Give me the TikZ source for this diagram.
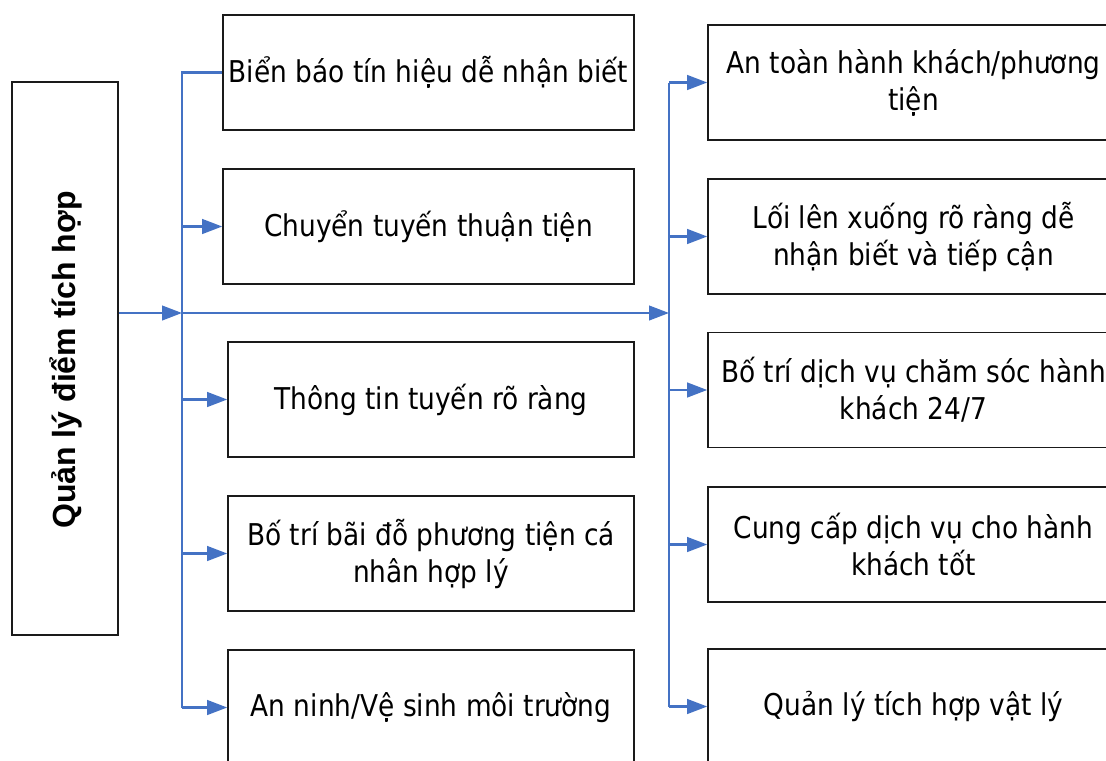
\documentclass[tikz,border=0pt]{standalone}
\usepackage{fontspec}
\setmainfont{DejaVu Sans}[FakeStretch=0.88]
\newfontfamily\titlefont{Liberation Sans}[BoldFont={Liberation Sans Bold}]
\usetikzlibrary{arrows.meta}
\definecolor{linkblue}{HTML}{4472C4}
\definecolor{boxline}{HTML}{1A1A1A}
\tikzset{
  box/.style={draw=boxline, line width=1.2pt, inner sep=0pt, align=center,
    minimum height=86.25pt, font=\fontsize{22.5}{27.75}\selectfont},
  leftbox/.style={box, minimum width=304.5pt},
  widebox/.style={box, minimum width=308.25pt},
  conn/.style={draw=linkblue, line width=1.6pt},
  arr/.style={conn, -{Triangle[length=15pt,width=11pt]}},
}
\begin{document}
\begin{tikzpicture}[x=0.75pt,y=-0.75pt]
\useasboundingbox (0,0) rectangle (1106,760);
\clip (0,0) rectangle (1106,760);

% title column
\node[draw=boxline, line width=1.2pt, minimum width=79.5pt, minimum height=414.75pt,
  inner sep=0pt] (title) at (65,358.5) {};
\node[rotate=90, font=\titlefont\bfseries\fontsize{24}{28}\selectfont]
  (titletext) at (66,360) {Quản lý điểm tích hợp};

% left column
\node[widebox] (L1) at (428.5,72.5)  {Biển báo tín hiệu dễ nhận biết};
\node[widebox] (L2) at (428.5,226.5) {Chuyển tuyến thuận tiện};
\node[leftbox] (L3) at (431,399.5)   {Thông tin tuyến rõ ràng};
\node[leftbox] (L4) at (431,553.5)   {Bố trí bãi đỗ phương tiện cá\\nhân hợp lý};
\node[leftbox] (L5) at (431,707.5)   {An ninh/Vệ sinh môi trường};

% right column
\node[widebox] (R1) at (913.5,82.5)  {An toàn hành khách/phương\\tiện};
\node[widebox] (R2) at (913.5,236.5) {Lối lên xuống rõ ràng dễ\\nhận biết và tiếp cận};
\node[widebox] (R3) at (913.5,390)   {Bố trí dịch vụ chăm sóc hành\\khách 24/7};
\node[widebox] (R4) at (913.5,544.5) {Cung cấp dịch vụ cho hành\\khách tốt};
\node[widebox] (R5) at (913.5,706.5) {Quản lý tích hợp vật lý};

% bus lines
\coordinate (busL) at (182,313);
\coordinate (busR) at (669,313);

\draw[arr] (title.east |- busL) -- (busL);
\draw[arr] (busL) -- (busR);

\draw[conn] (L1.west) -| (busL) -- (busL |- L5.west);
\foreach \n in {L2,L3,L4,L5}
  \draw[arr] (busL |- \n.west) -- (\n.west);

\draw[conn] (busR |- R1.west) -- (busR |- R5.west);
\foreach \n in {R1,R2,R3,R4,R5}
  \draw[arr] (busR |- \n.west) -- (\n.west);
\end{tikzpicture}
\end{document}
